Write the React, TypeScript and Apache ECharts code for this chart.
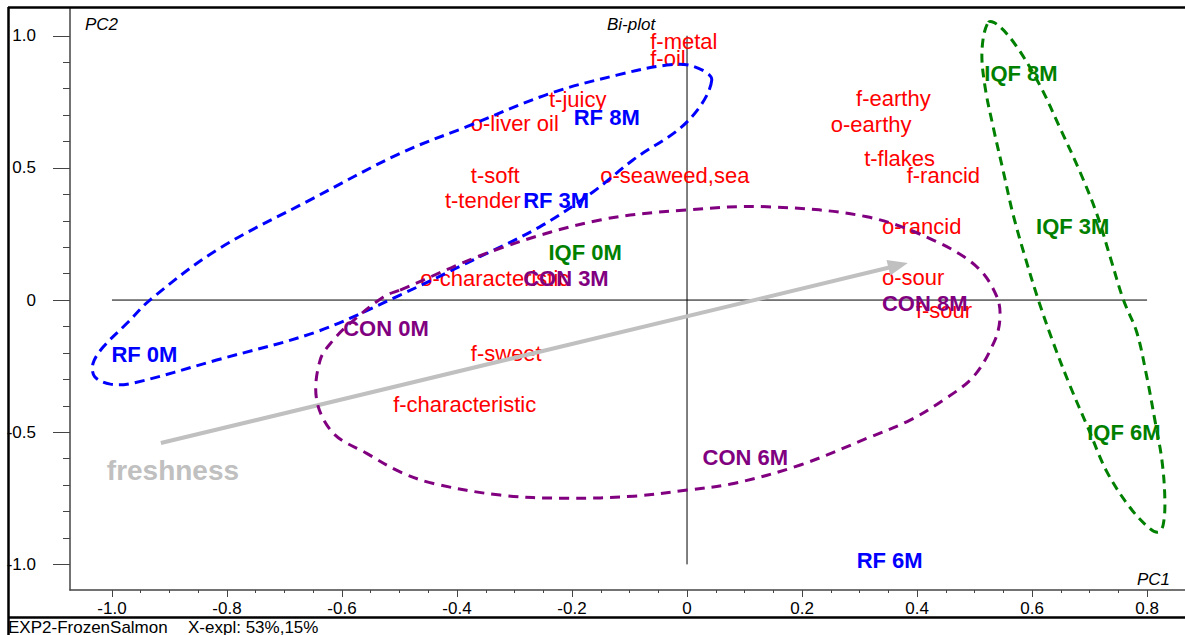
import React, { useEffect, useRef } from 'react';
import * as echarts from 'echarts';

const FONT = "'Liberation Sans', Arial, Helvetica, sans-serif";

// Sensory attribute loadings (PC1, PC2)
const attributeNames = [
  'f-metal', 'f-oil', 't-juicy', 'o-liver oil', 't-soft', 'o-seaweed,sea', 't-tender',
  'o-characteristic', 'f-sweet', 'f-characteristic', 'f-earthy', 'o-earthy', 't-flakes',
  'f-rancid', 'o-rancid', 'o-sour', 'f-sour',
];
const attributePC1 = [-0.064, -0.064, -0.24, -0.376, -0.376, -0.151, -0.421, -0.464, -0.376, -0.511, 0.294, 0.25, 0.308, 0.382, 0.339, 0.339, 0.398];
const attributePC2 = [0.977, 0.913, 0.759, 0.668, 0.471, 0.471, 0.375, 0.082, -0.204, -0.396, 0.763, 0.664, 0.534, 0.473, 0.279, 0.087, -0.038];

// Sample scores by freezing method and storage time
const rfNames = ['RF 0M', 'RF 3M', 'RF 6M', 'RF 8M'];
const rfPC1 = [-1.001, -0.285, 0.295, -0.197];
const rfPC2 = [-0.207, 0.376, -0.984, 0.691];

const iqfNames = ['IQF 0M', 'IQF 3M', 'IQF 6M', 'IQF 8M'];
const iqfPC1 = [-0.241, 0.607, 0.696, 0.517];
const iqfPC2 = [0.179, 0.277, -0.502, 0.856];

const conNames = ['CON 0M', 'CON 3M', 'CON 6M', 'CON 8M'];
const conPC1 = [-0.598, -0.285, 0.027, 0.339];
const conPC2 = [-0.107, 0.082, -0.594, -0.014];

// Group outlines (PC1, PC2)
const rfOutline = [
  [0.043, 0.832], [0.0005, 0.675], [-0.094, 0.53], [-0.163, 0.41], [-0.256, 0.277],
  [-0.383, 0.14], [-0.499, 0.019], [-0.644, -0.12], [-0.818, -0.227], [-0.963, -0.314],
  [-1.003, -0.318], [-1.03, -0.29], [-1.033, -0.24], [-1.015, -0.177], [-0.974, -0.088],
  [-0.934, 0.0], [-0.818, 0.189], [-0.656, 0.378], [-0.499, 0.555], [-0.383, 0.656],
  [-0.238, 0.782], [-0.122, 0.851], [-0.035, 0.889], [0.01, 0.885],
];
const conOutline = [
  [-0.499, 0.038], [-0.325, 0.196], [-0.151, 0.303], [-0.0005, 0.341], [0.139, 0.353],
  [0.313, 0.315], [0.428, 0.227], [0.504, 0.126], [0.539, 0.012], [0.544, -0.076],
  [0.533, -0.164], [0.498, -0.29], [0.446, -0.378], [0.388, -0.454], [0.313, -0.523],
  [0.197, -0.624], [0.081, -0.694], [0.0005, -0.719], [-0.093, -0.742], [-0.209, -0.75],
  [-0.325, -0.738], [-0.441, -0.694], [-0.499, -0.65], [-0.557, -0.58], [-0.615, -0.504],
  [-0.644, -0.378], [-0.638, -0.227], [-0.615, -0.151], [-0.586, -0.088], [-0.528, 0.012],
];
const iqfOutline = [
  [0.524, 1.051], [0.541, 1.04], [0.573, 0.96], [0.614, 0.811], [0.649, 0.649],
  [0.683, 0.487], [0.713, 0.324], [0.736, 0.162], [0.759, 0.0], [0.782, -0.121],
  [0.799, -0.284], [0.814, -0.459], [0.826, -0.608], [0.831, -0.757], [0.828, -0.851],
  [0.82, -0.878], [0.805, -0.865], [0.77, -0.784], [0.73, -0.649], [0.698, -0.487],
  [0.666, -0.324], [0.637, -0.162], [0.611, 0.0], [0.588, 0.162], [0.567, 0.324],
  [0.55, 0.487], [0.533, 0.649], [0.518, 0.811], [0.513, 0.946],
];

// Freshness direction arrow
const freshnessFrom = [-0.915, -0.541];
const freshnessTo = [0.384, 0.14];
const freshnessLabelAt = [-1.009, -0.646];

// Axis ranges and ticks
const pc1Range = [-1.073, 0.866];
const pc2Range = [-1.097, 1.105];
const pc1MajorTicks = [-1.0, -0.8, -0.6, -0.4, -0.2, 0, 0.2, 0.4, 0.6, 0.8];
const pc1MinorTicks = [
  -1.0, -0.95, -0.9, -0.85, -0.8, -0.75, -0.7, -0.65, -0.6, -0.55, -0.5, -0.45, -0.4, -0.35,
  -0.3, -0.25, -0.2, -0.15, -0.1, -0.05, 0, 0.05, 0.1, 0.15, 0.2, 0.25, 0.3, 0.35, 0.4, 0.45,
  0.5, 0.55, 0.6, 0.65, 0.7, 0.75, 0.8,
];
const pc2MajorTicks = [-1.0, -0.5, 0, 0.5, 1.0];
const pc2MinorTicks = [
  -1.0, -0.9, -0.8, -0.7, -0.6, -0.5, -0.4, -0.3, -0.2, -0.1, 0, 0.1, 0.2, 0.3, 0.4, 0.5,
  0.6, 0.7, 0.8, 0.9, 1.0,
];

const RED = '#ff0000';
const BLUE = '#0000ff';
const GREEN = '#008000';
const PURPLE = '#800080';
const GREY = '#c0c0c0';
const AXIS = '#444444';

const tickFormat = (v: number) => (Math.abs(v) < 1e-9 ? '0' : v.toFixed(1));

function labelSeries(names: string[], xs: number[], ys: number[], color: string, bold: boolean, z: number, size = 22) {
  return {
    type: 'scatter',
    silent: true,
    z,
    symbolSize: 0,
    itemStyle: { opacity: 1 },
    emphasis: { disabled: true },
    data: names.map((n, i) => ({ name: n, value: [xs[i], ys[i]] })),
    label: {
      show: true,
      position: 'right',
      distance: 0,
      formatter: '{b}',
      color,
      opacity: 1,
      fontSize: size,
      fontWeight: bold ? 'bold' : 'normal',
      fontFamily: FONT,
    },
  };
}

function outlineSeries(points: number[][], color: string, dash: number[]) {
  return {
    type: 'custom',
    silent: true,
    z: 6,
    data: [points[0]],
    renderItem: (_p: any, api: any) => ({
      type: 'polygon',
      shape: { points: points.map((p) => api.coord(p)), smooth: 0.35 },
      style: { fill: 'none', stroke: color, lineWidth: 3, lineDash: dash },
    }),
  };
}

function arrowSeries() {
  return {
    type: 'custom',
    silent: true,
    z: 5,
    data: [freshnessFrom],
    renderItem: (_p: any, api: any) => {
      const a = api.coord(freshnessFrom);
      const b = api.coord(freshnessTo);
      const dx = b[0] - a[0];
      const dy = b[1] - a[1];
      const len = Math.hypot(dx, dy);
      const ux = dx / len;
      const uy = dy / len;
      const headLen = 20;
      const headHalf = 8;
      const hx = b[0] - ux * headLen;
      const hy = b[1] - uy * headLen;
      return {
        type: 'group',
        children: [
          {
            type: 'line',
            shape: { x1: a[0], y1: a[1], x2: hx + ux * 2, y2: hy + uy * 2 },
            style: { stroke: GREY, lineWidth: 4 },
          },
          {
            type: 'polygon',
            shape: {
              points: [
                [b[0], b[1]],
                [hx - uy * headHalf, hy + ux * headHalf],
                [hx + uy * headHalf, hy - ux * headHalf],
              ],
            },
            style: { fill: GREY, stroke: 'none' },
          },
        ],
      };
    },
  };
}

function buildOption() {
  return {
    animation: false,
    backgroundColor: '#ffffff',
    grid: { left: 70, top: 8, right: 0, bottom: 45, containLabel: false },
    xAxis: [
      {
        type: 'value',
        position: 'bottom',
        min: pc1Range[0],
        max: pc1Range[1],
        axisLine: { show: true, onZero: false, lineStyle: { color: AXIS, width: 1.5 } },
        axisTick: { show: true, customValues: pc1MajorTicks, length: 7, lineStyle: { color: AXIS } },
        axisLabel: {
          show: true,
          customValues: pc1MajorTicks,
          formatter: tickFormat,
          margin: 10,
          color: '#000',
          fontSize: 17,
          fontFamily: FONT,
        },
        splitLine: { show: false },
      },
      {
        type: 'value',
        position: 'bottom',
        min: pc1Range[0],
        max: pc1Range[1],
        axisLine: { show: false, onZero: false },
        axisTick: { show: true, customValues: pc1MinorTicks, length: 3, lineStyle: { color: AXIS } },
        axisLabel: { show: false },
        splitLine: { show: false },
      },
    ],
    yAxis: [
      {
        type: 'value',
        position: 'left',
        min: pc2Range[0],
        max: pc2Range[1],
        axisLine: { show: true, onZero: false, lineStyle: { color: AXIS, width: 1.5 } },
        axisTick: { show: true, customValues: pc2MajorTicks, length: 17, lineStyle: { color: AXIS } },
        axisLabel: {
          show: true,
          customValues: pc2MajorTicks,
          formatter: tickFormat,
          margin: 34,
          color: '#000',
          fontSize: 17,
          fontFamily: FONT,
        },
        splitLine: { show: false },
      },
      {
        type: 'value',
        position: 'left',
        min: pc2Range[0],
        max: pc2Range[1],
        axisLine: { show: false, onZero: false },
        axisTick: { show: true, customValues: pc2MinorTicks, length: 7, lineStyle: { color: AXIS } },
        axisLabel: { show: false },
        splitLine: { show: false },
      },
    ],
    graphic: [
      { type: 'line', shape: { x1: 8, y1: 7.5, x2: 1185, y2: 7.5 }, style: { stroke: '#000', lineWidth: 2.5 }, z: 100 },
      { type: 'line', shape: { x1: 8.5, y1: 7, x2: 8.5, y2: 635 }, style: { stroke: '#000', lineWidth: 2.5 }, z: 100 },
      { type: 'line', shape: { x1: 8, y1: 617.5, x2: 1185, y2: 617.5 }, style: { stroke: '#000', lineWidth: 2.5 }, z: 100 },
      {
        type: 'text', x: 607, y: 24, z: 100,
        style: { text: 'Bi-plot', fill: '#000', font: `italic 17px ${FONT}`, align: 'left', verticalAlign: 'middle' },
      },
      {
        type: 'text', x: 85, y: 24, z: 100,
        style: { text: 'PC2', fill: '#000', font: `italic 17px ${FONT}`, align: 'left', verticalAlign: 'middle' },
      },
      {
        type: 'text', x: 1137, y: 579, z: 100,
        style: { text: 'PC1', fill: '#000', font: `italic 17px ${FONT}`, align: 'left', verticalAlign: 'middle' },
      },
      {
        type: 'text', x: 8, y: 627, z: 100,
        style: { text: 'EXP2-FrozenSalmon', fill: '#000', font: `17px ${FONT}`, align: 'left', verticalAlign: 'middle' },
      },
      {
        type: 'text', x: 188, y: 627, z: 100,
        style: { text: 'X-expl: 53%,15%', fill: '#000', font: `17px ${FONT}`, align: 'left', verticalAlign: 'middle' },
      },
    ],
    series: [
      {
        type: 'line',
        silent: true,
        z: 1,
        symbol: 'none',
        data: [[-1.0, 0], [0.8, 0]],
        lineStyle: { color: '#000', width: 1 },
      },
      {
        type: 'line',
        silent: true,
        z: 1,
        symbol: 'none',
        data: [[0, 1.0], [0, -1.0]],
        lineStyle: { color: '#000', width: 1 },
      },
      labelSeries(attributeNames, attributePC1, attributePC2, RED, false, 2),
      labelSeries(rfNames, rfPC1, rfPC2, BLUE, true, 3),
      labelSeries(iqfNames, iqfPC1, iqfPC2, GREEN, true, 3),
      labelSeries(conNames, conPC1, conPC2, PURPLE, true, 3),
      labelSeries(['freshness'], [freshnessLabelAt[0]], [freshnessLabelAt[1]], GREY, true, 3, 28),
      arrowSeries(),
      outlineSeries(rfOutline, BLUE, [10, 6]),
      outlineSeries(conOutline, PURPLE, [10, 7]),
      outlineSeries(iqfOutline, GREEN, [9, 6]),
    ],
  };
}

export default function App() {
  const ref = useRef<HTMLDivElement>(null);
  useEffect(() => {
    if (!ref.current) return;
    const chart = echarts.init(ref.current, null, { renderer: 'svg' });
    chart.setOption(buildOption() as any);
    return () => chart.dispose();
  }, []);
  return (
    <div
      ref={ref}
      style={{ position: 'absolute', left: 0, top: 0, width: 1185, height: 635, background: '#ffffff' }}
    />
  );
}
